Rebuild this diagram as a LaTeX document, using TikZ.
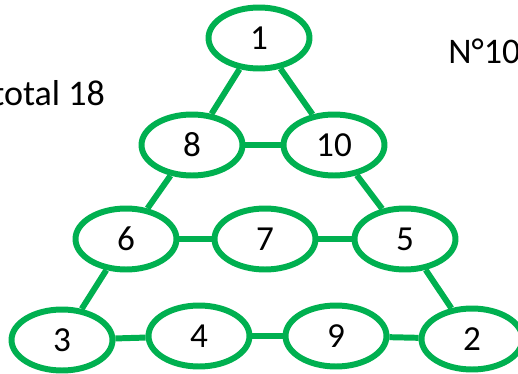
\documentclass[tikz,border=0pt]{standalone}
\usepackage{fontspec}
\setmainfont{Carlito}
\usetikzlibrary{shapes}

\definecolor{ringgreen}{RGB}{0,176,80}

\begin{document}
\begin{tikzpicture}[x=0.02cm, y=-0.02cm,
    ring/.style={ellipse, draw=ringgreen, line width=3.4pt, minimum width=2.02cm, minimum height=1.22cm, inner sep=0pt, font=\fontsize{20}{24}\selectfont},
    link/.style={draw=ringgreen, line width=3.4pt},
    note/.style={anchor=base west, inner sep=0pt, font=\fontsize{20.5}{24}\selectfont}]

  \clip (0,0) rectangle (518,373);
  \useasboundingbox (0,0) rectangle (518,373);

  % row 1
  \node[ring] (n1) at (259,38) {1};

  % row 2
  \node[ring] (n8) at (192,145) {8};
  \node[ring] (n10) at (334,145) {10};

  % row 3
  \node[ring] (n6) at (126,239) {6};
  \node[ring] (n7) at (265,239) {7};
  \node[ring] (n5) at (405,239) {5};

  % row 4
  \node[ring] (n3) at (62,340) {3};
  \node[ring] (n4) at (199,336) {4};
  \node[ring] (n9) at (336,336) {9};
  \node[ring] (n2) at (472,339) {2};

  % sides
  \draw[link] (n1) -- (n8);
  \draw[link] (n1) -- (n10);
  \draw[link] (n8) -- (n6);
  \draw[link] (n6) -- (n3);
  \draw[link] (n10) -- (n5);
  \draw[link] (n5) -- (n2);

  % rows
  \draw[link] (n8) -- (n10);
  \draw[link] (n6) -- (n7);
  \draw[link] (n7) -- (n5);
  \draw[link] (n3) -- (n4);
  \draw[link] (n4) -- (n9);
  \draw[link] (n9) -- (n2);

  % texts
  \node[note] (total) at (-8,105) {total 18};
  \node[note] (num) at (448,63) {N°10};

\end{tikzpicture}
\end{document}
